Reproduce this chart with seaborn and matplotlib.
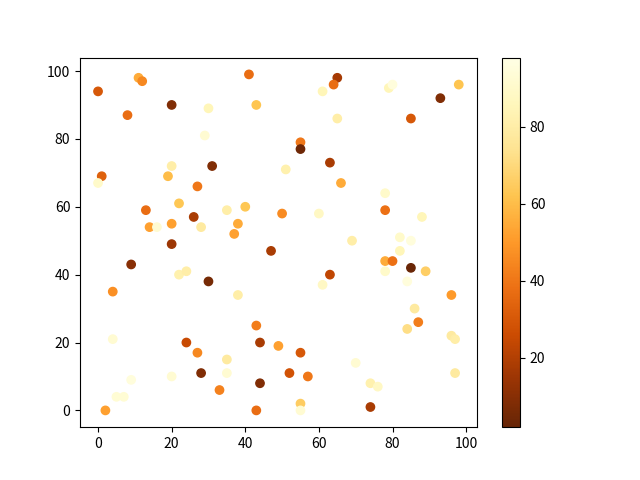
import matplotlib
matplotlib.use("Agg")
import matplotlib.pyplot as plt
import seaborn as sns
import pandas as pd

plt.rcParams['font.family'] = ['Noto Sans CJK SC', 'DejaVu Sans']
plt.rcParams['axes.unicode_minus'] = False

x_vals = [0, 11, 12, 41, 8, 20, 30, 43, 29, 20, 31, 19, 1, 0, 27, 22, 13, 35, 40, 26,
          14, 16, 20, 28, 38, 37, 50, 20,
          65, 64, 61, 79, 80, 98, 93, 65, 85, 55, 55, 63, 51, 66, 78, 60, 78, 88, 69, 82, 85,
          47, 9, 22, 24, 30, 4, 38, 43, 4, 24, 44, 49, 27, 35, 35, 28, 9, 20, 44, 5, 7, 33, 2, 43,
          78, 80, 85, 89, 78, 82, 63, 61, 84, 96, 86, 87, 84, 96, 97, 55, 52, 57, 70, 74, 76, 97,
          55, 55, 74]
y_vals = [94, 98, 97, 99, 87, 90, 89, 90, 81, 72, 72, 69, 69, 67, 66, 61, 59, 59, 60, 57,
          54, 54, 55, 54, 55, 52, 58, 49,
          98, 96, 94, 95, 96, 96, 92, 86, 86, 79, 77, 73, 71, 67, 64, 58, 59, 57, 50, 51, 50,
          47, 43, 40, 41, 38, 35, 34, 25, 21, 20, 20, 19, 17, 15, 11, 11, 9, 10, 8, 4, 4, 6, 0, 0,
          44, 44, 42, 41, 41, 47, 40, 37, 38, 34, 30, 26, 24, 22, 21, 17, 11, 10, 14, 8, 7, 11,
          2, 0, 1]
c_vals = [30, 55, 45, 37, 37, 8, 85, 62, 92, 80, 8, 60, 33, 90, 40, 63, 37, 80, 63, 18,
          52, 92, 52, 78, 55, 52, 46, 15,
          17, 37, 85, 85, 95, 62, 8, 80, 30, 40, 4, 18, 82, 55, 90, 88, 38, 85, 80, 90, 95,
          18, 10, 82, 80, 6, 47, 80, 42, 92, 25, 18, 52, 45, 78, 92, 8, 95, 92, 8, 93, 93, 43, 52, 37,
          55, 38, 3, 66, 90, 85, 23, 88, 95, 50, 78, 42, 72, 78, 80, 30, 28, 40, 92, 82, 88, 78,
          65, 92, 18]

c_min, c_max = 2, 98

df = pd.DataFrame({"x": x_vals, "y": y_vals, "c": c_vals})

fig, ax = plt.subplots(figsize=(6.4, 4.8), dpi=100)
sns.scatterplot(data=df, x="x", y="y", hue="c", palette="YlOrBr_r",
                hue_norm=(c_min, c_max), s=36, edgecolor="face", linewidth=1,
                legend=False, ax=ax)
ax.set_xlabel("")
ax.set_ylabel("")
sm = plt.cm.ScalarMappable(cmap="YlOrBr_r", norm=plt.Normalize(c_min, c_max))
sm.set_array([])
fig.colorbar(sm, ax=ax)
fig.savefig("out.png", dpi=100)
